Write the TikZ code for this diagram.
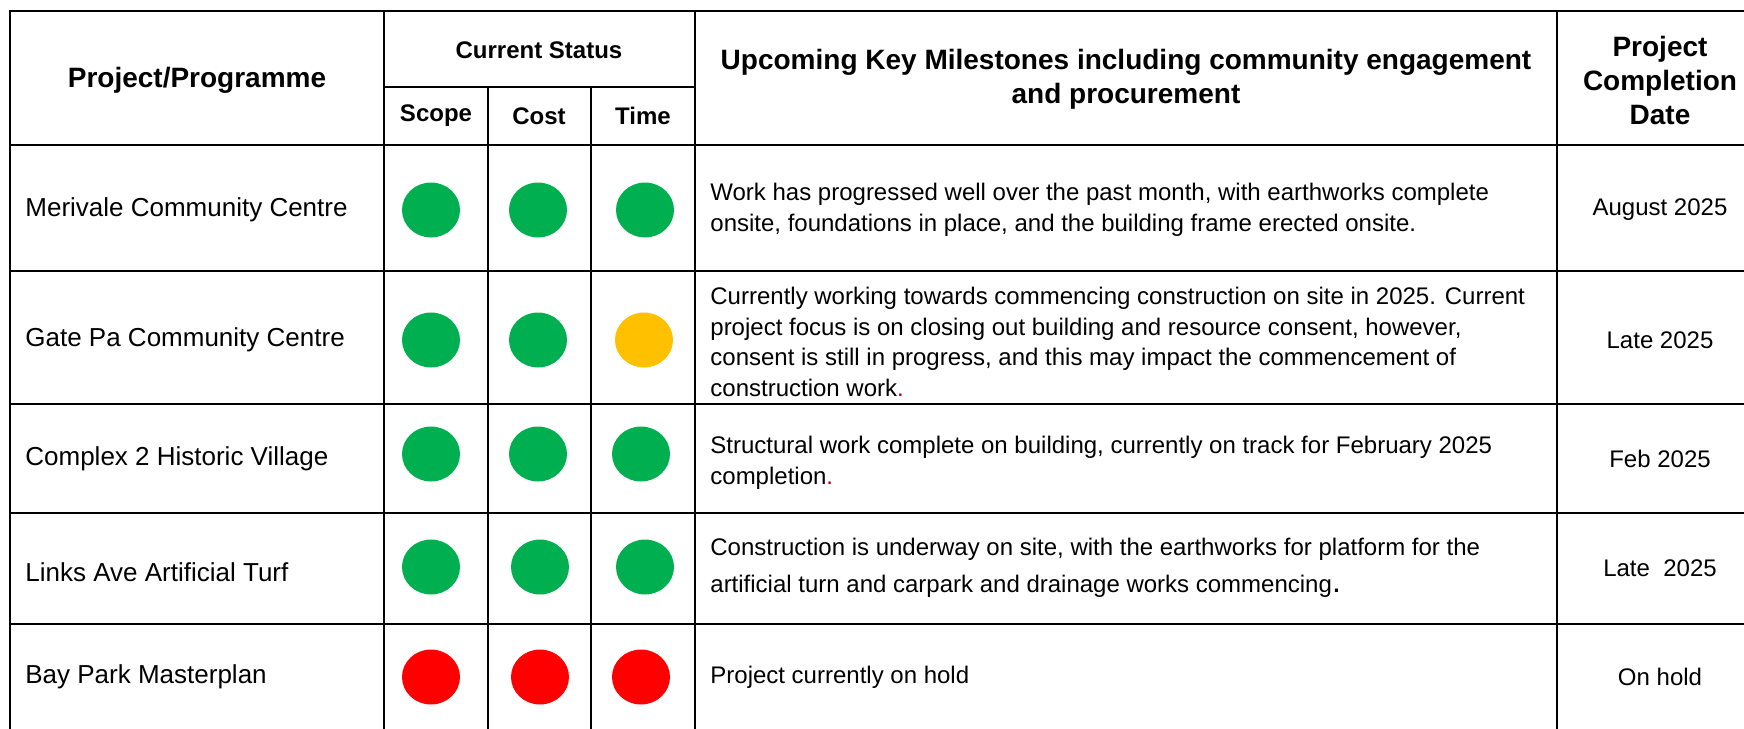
\documentclass[tikz,border=0pt]{standalone}
\usepackage{fontspec}
\setmainfont{Liberation Sans}
\usetikzlibrary{shapes.geometric}
\definecolor{okgreen}{HTML}{00B050}
\definecolor{warnamber}{HTML}{FFC000}
\definecolor{stopred}{HTML}{FF0000}
\definecolor{dotred}{HTML}{C00000}
\tikzset{
  grid/.style={line width=1pt},
  head/.style={font=\fontsize{14}{17}\selectfont\bfseries, align=center, inner sep=0},
  subhead/.style={font=\fontsize{12}{14}\selectfont\bfseries, inner sep=0},
  projname/.style={font=\fontsize{13}{15}\selectfont, anchor=west, inner sep=0},
  note/.style={font=\fontsize{12}{15.5}\selectfont, anchor=west, align=left, inner sep=0},
  when/.style={font=\fontsize{12}{14}\selectfont, inner sep=0},
  lamp/.style={ellipse, minimum width=29pt, minimum height=27.5pt, inner sep=0}
}
\begin{document}
\begin{tikzpicture}[x=0.5pt,y=-0.5pt]
    \clip (0,0) rectangle (1744,728);
    % table lines
    \draw[grid] (1770,11) -- (10,11) -- (10,740);
    \draw[grid] (384,87) -- (695,87);
    \draw[grid] (10,145) -- (1770,145);
    \foreach \y in {271,404,513,624}
        \draw[grid] (10,\y) -- (1770,\y);
    \foreach \x in {384,695,1557}
        \draw[grid] (\x,11) -- (\x,740);
    \foreach \x in {488,591}
        \draw[grid] (\x,87) -- (\x,740);

    % header
    \node[head] (hproj) at (197,80) {Project/Programme};
    \node[subhead] (hstatus) at (539,50) {Current Status};
    \node[subhead] (hscope) at (436,116) {Scope};
    \node[subhead] (hcost) at (539,116) {Cost};
    \node[subhead] (htime) at (643,116) {Time};
    \node[head] (hmile) at (1126,79) {Upcoming Key Milestones including community engagement\\and procurement};
    \node[head] (hdate) at (1660,80) {Project\\Completion\\Date};

    % projects
    \node[projname] (p1) at (25,210) {Merivale Community Centre};
    \node[projname] (p2) at (25,340) {Gate Pa Community Centre};
    \node[projname] (p3) at (25,459) {Complex 2 Historic Village};
    \node[projname] (p4) at (25,572) {Links Ave Artificial Turf};
    \node[projname] (p5) at (25,677) {Bay Park Masterplan};

    % status lamps
    \node[lamp, fill=okgreen] (s1) at (431,210) {};
    \node[lamp, fill=okgreen] (c1) at (538,210) {};
    \node[lamp, fill=okgreen] (t1) at (645,210) {};
    \node[lamp, fill=okgreen] (s2) at (431,340) {};
    \node[lamp, fill=okgreen] (c2) at (538,340) {};
    \node[lamp, fill=warnamber] (t2) at (644,340) {};
    \node[lamp, fill=okgreen] (s3) at (431,454) {};
    \node[lamp, fill=okgreen] (c3) at (538,454) {};
    \node[lamp, fill=okgreen] (t3) at (641,454) {};
    \node[lamp, fill=okgreen] (s4) at (431,567) {};
    \node[lamp, fill=okgreen] (c4) at (540,567) {};
    \node[lamp, fill=okgreen] (t4) at (645,567) {};
    \node[lamp, fill=stopred] (s5) at (431,677) {};
    \node[lamp, fill=stopred] (c5) at (540,677) {};
    \node[lamp, fill=stopred] (t5) at (641,677) {};

    % milestones
    \node[note] (m1) at (710,210) {Work has progressed well over the past month, with earthworks complete\\onsite, foundations in place, and the building frame erected onsite.};
    \node[note, font=\fontsize{12}{15.2}\selectfont] (m2) at (710,342) {Currently working towards commencing construction on site in 2025. Current\\project focus is on closing out building and resource consent, however,\\consent is still in progress, and this may impact the commencement of\\construction work\textcolor{dotred}{.}};
    \node[note] (m3) at (710,463) {Structural work complete on building, currently on track for February 2025\\completion\textcolor{dotred}{.}};
    \node[note, font=\fontsize{12}{18.5}\selectfont] (m4) at (710,568) {Construction is underway on site, with the earthworks for platform for the\\artificial turn and carpark and drainage works commencing{\fontsize{16}{16}\selectfont .}};
    \node[note] (m5) at (710,677) {Project currently on hold};

    % completion dates
    \node[when] (d1) at (1660,210) {August 2025};
    \node[when] (d2) at (1660,340) {Late 2025};
    \node[when] (d3) at (1660,459) {Feb 2025};
    \node[when] (d4) at (1660,568) {Late\ \ 2025};
    \node[when] (d5) at (1660,677) {On hold};
\end{tikzpicture}
\end{document}
